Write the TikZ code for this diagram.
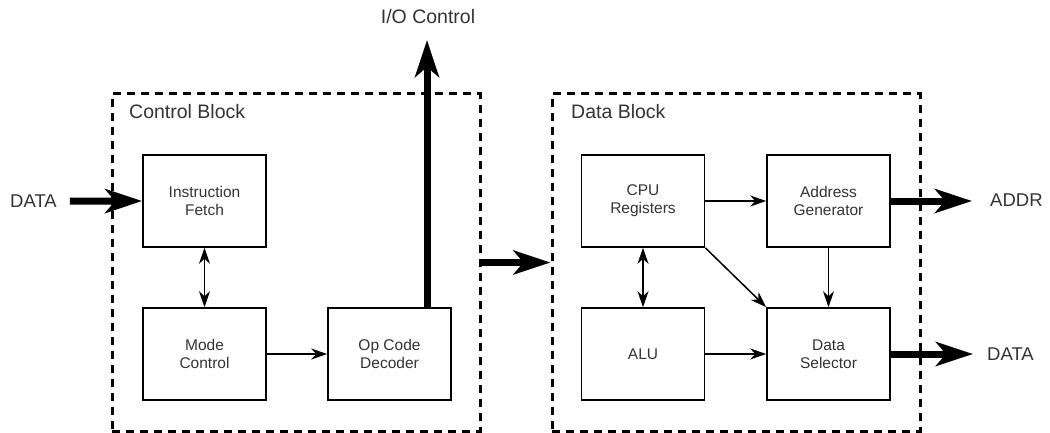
\documentclass[tikz,border=0pt]{standalone}
\usepackage{fontspec}
\setmainfont{Liberation Sans}
\usetikzlibrary{arrows.meta}
\definecolor{txt}{RGB}{51,51,51}
\begin{document}
\begin{tikzpicture}[x=1pt,y=-1pt,
  blk/.style={draw, line width=1.6pt, minimum width=123pt, minimum height=92pt, align=center,
    font=\fontsize{15.5}{18}\selectfont, text=txt, inner sep=0pt},
  grp/.style={draw, line width=3pt, dash pattern=on 8pt off 6pt, minimum width=368pt,
    minimum height=337pt, inner sep=0pt},
  lbl/.style={font=\fontsize{19.5}{22}\selectfont, text=txt, inner sep=0pt},
  iolbl/.style={font=\fontsize{18.5}{21}\selectfont, text=txt, inner sep=0pt},
  thinarrow/.style={line width=1.5pt, -{Stealth[length=16pt,width=11pt,inset=5pt]}},
  botharrow/.style={line width=1.5pt, {Stealth[length=16pt,width=11pt,inset=5pt]}-{Stealth[length=16pt,width=11pt,inset=5pt]}},
  bigarrow/.style={line width=7pt, -{Stealth[length=37pt,width=24pt,inset=10pt]}}
]
\useasboundingbox (0,0) rectangle (1050,433);

% groups
\node[grp] (ctrl) at (296,262.5) {};
\node[grp] (data) at (736,262.5) {};
\node[lbl, anchor=base west] (ctrllbl) at (129,119) {Control Block};
\node[lbl, anchor=base west] (datalbl) at (571,119) {Data Block};

% blocks
\node[blk] (fetch) at (204.5,201) {Instruction\\Fetch};
\node[blk] (mode) at (204.5,354) {Mode\\Control};
\node[blk] (op) at (389.5,354) {Op Code\\Decoder};
\node[blk] (cpu) at (643,201) {CPU\\Registers};
\node[blk] (addr) at (828.5,201) {Address\\Generator};
\node[blk] (alu) at (643,354) {ALU};
\node[blk] (ds) at (828.5,354) {Data\\Selector};

% outer labels
\node[iolbl, anchor=base west] (din) at (10,207.5) {DATA};
\node[lbl, anchor=base] (io) at (428,24) {I/O Control};
\node[iolbl, anchor=base west] (aout) at (990,207) {ADDR};
\node[iolbl, anchor=base west] (dout) at (987,360) {DATA};
\coordinate (iotip) at (427,40);

% thin connectors
\draw[botharrow] (fetch) -- (mode);
\draw[thinarrow] (mode) -- (op);
\draw[thinarrow] (cpu) -- (addr);
\draw[botharrow] (cpu) -- (alu);
\draw[thinarrow] (alu) -- (ds);
\draw[thinarrow] (addr) -- (ds);
\draw[thinarrow] (cpu.south east) -- (ds.north west);

% thick connectors
\draw[bigarrow, shorten <=13pt] (din.east) -- (fetch.west);
\draw[bigarrow] (iotip |- op.north) -- (iotip);
\draw[bigarrow] (ctrl.east) -- (data.west);
\draw[bigarrow, shorten >=18pt] (addr.east) -- (addr.east -| aout.west);
\draw[bigarrow, shorten >=14pt] (ds.east) -- (ds.east -| dout.west);
\end{tikzpicture}
\end{document}
